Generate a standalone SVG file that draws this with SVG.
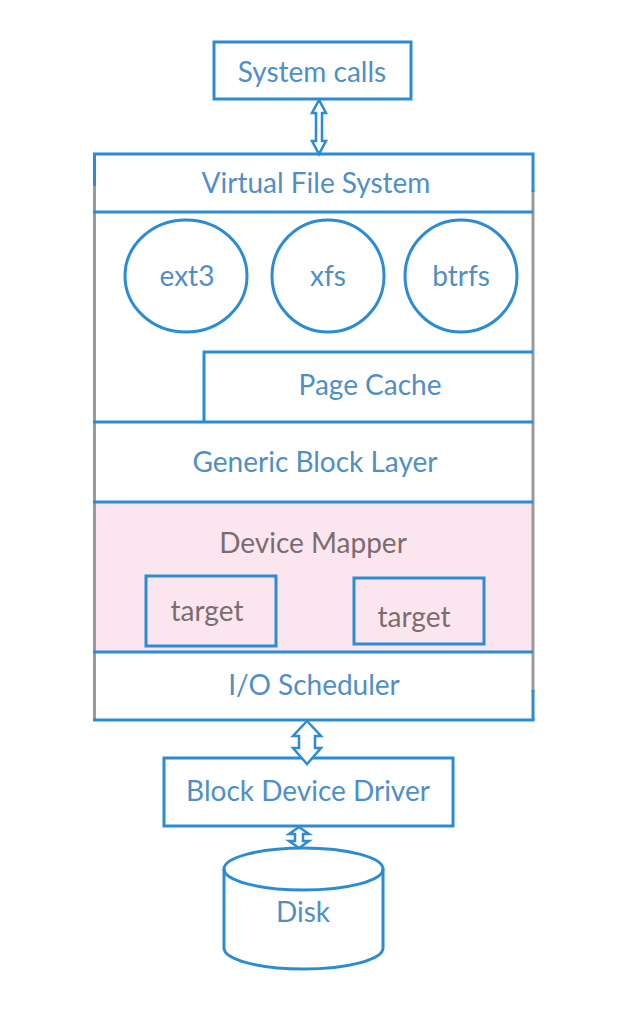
<svg xmlns="http://www.w3.org/2000/svg" width="626" height="1026" viewBox="0 0 626 1026">
<style>
.b{fill:none;stroke:#2b8cd4;stroke-width:3}
.g{fill:none;stroke:#9a9a9a;stroke-width:3}
.t{font-family:Lato,"Liberation Sans",sans-serif;font-size:28px;fill:#4f8fc6;text-anchor:middle}
.d{fill:#7a6d70}
.a{fill:#fff;stroke:#2b8cd4;stroke-width:2.5;stroke-linejoin:miter}
</style>
<rect x="0" y="0" width="626" height="1026" fill="#fff"/>
<g id="frame">
<rect x="95" y="502" width="438" height="150" fill="#fbe6ef"/>
<line class="g" x1="94.5" y1="184" x2="94.5" y2="720"/>
<line class="g" x1="533" y1="190" x2="533" y2="692"/>
<line class="b" x1="533" y1="690" x2="533" y2="720"/>
<line class="b" x1="93" y1="720" x2="534.5" y2="720"/>
</g>
<g id="vfs">
<path class="b" d="M94.5,186 V154 H533 V192"/>
<line class="b" x1="93" y1="212" x2="533" y2="212"/>
<text class="t" x="316" y="193">Virtual File System</text>
</g>
<g id="ext3">
<ellipse class="b" cx="186" cy="276" rx="61" ry="56"/>
<text class="t" x="187" y="286">ext3</text>
</g>
<g id="xfs">
<ellipse class="b" cx="328" cy="276" rx="56" ry="56"/>
<text class="t" x="328" y="286">xfs</text>
</g>
<g id="btrfs">
<ellipse class="b" cx="461" cy="276" rx="56" ry="56"/>
<text class="t" x="461" y="286">btrfs</text>
</g>
<g id="pagecache">
<path class="b" d="M204,422 V352 H533"/>
<text class="t" x="370" y="395">Page Cache</text>
</g>
<g id="genericblock">
<line class="b" x1="93" y1="422" x2="533" y2="422"/>
<text class="t" x="315" y="472">Generic Block Layer</text>
</g>
<g id="devicemapper">
<line class="b" x1="93" y1="502" x2="533" y2="502"/>
<text class="t d" x="313" y="553">Device Mapper</text>
</g>
<g id="target1">
<rect class="b" x="146" y="576" width="130" height="70"/>
<text class="t d" x="207" y="621">target</text>
</g>
<g id="target2">
<rect class="b" x="354" y="578" width="130" height="66"/>
<text class="t d" x="414" y="627">target</text>
</g>
<g id="ioscheduler">
<line class="b" x1="93" y1="652" x2="533" y2="652"/>
<text class="t" x="314" y="695">I/O Scheduler</text>
</g>
<g id="systemcalls">
<rect class="b" x="214" y="42" width="197" height="57"/>
<text class="t" x="312" y="82">System calls</text>
</g>
<g id="blockdevicedriver">
<rect class="b" x="164" y="758" width="289" height="68"/>
<text class="t" x="308" y="801">Block Device Driver</text>
</g>
<g id="disk">
<path class="b" d="M224,869 V948 A79.5,21 0 0 0 383,948 V869"/>
<ellipse class="b" cx="303.5" cy="869" rx="79.5" ry="21"/>
<text class="t" x="303" y="922">Disk</text>
</g>
<g id="connectors">
<path class="a" d="M319,100 L312,113 H316 V141 H312 L319,154 L326,141 H322 V113 H326 Z"/>
<path class="a" d="M307,721 L293,736 H299 V748 H293 L307,764 L321,748 H315 V736 H321 Z"/>
<path class="a" d="M299,827 L289,834 H295 V841 H289 L299,848 L309,841 H303 V834 H309 Z"/>
</g>
</svg>
